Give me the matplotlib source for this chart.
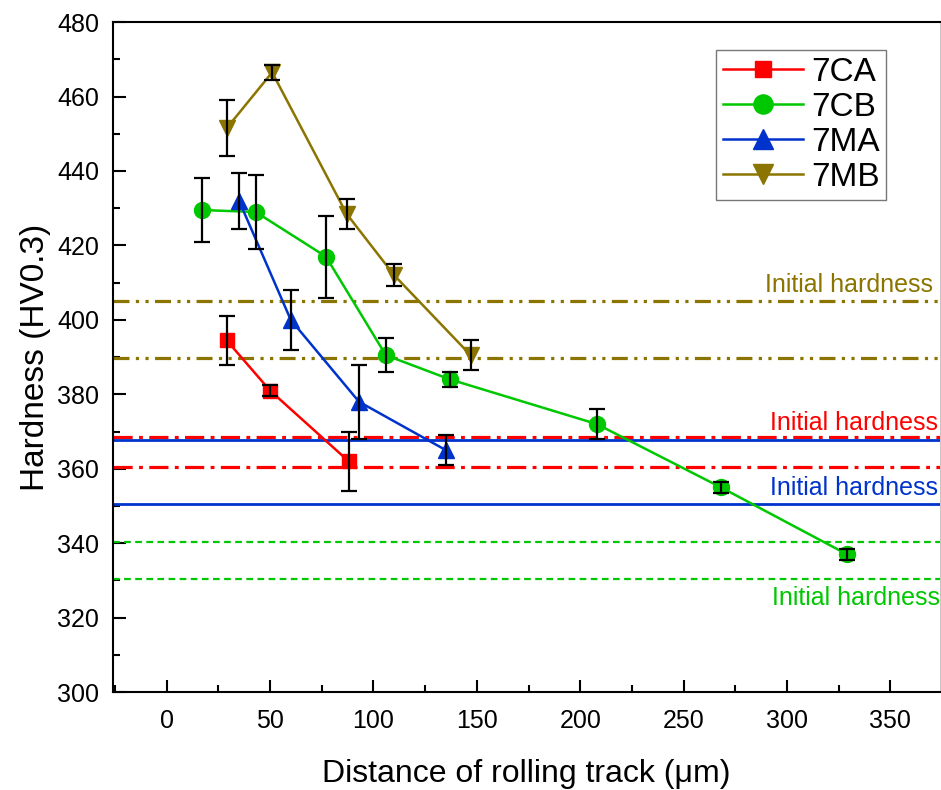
import matplotlib.pyplot as plt
from matplotlib.ticker import MultipleLocator

plt.rcParams['font.family'] = ['Liberation Sans', 'DejaVu Sans']

# 7CA
x_ca = [29, 50, 88]
y_ca = [394.5, 381, 362]
e_ca = [6.5, 1.5, 8]

# 7CB
x_cb = [17, 43, 77, 106, 137, 208, 268, 329]
y_cb = [429.5, 429, 417, 390.5, 384, 372, 355, 337]
e_cb = [8.5, 10, 11, 4.5, 2, 4, 1.5, 1.5]

# 7MA
x_ma = [35, 60, 93, 135]
y_ma = [432, 400, 378, 365]
e_ma = [7.5, 8, 10, 4]

# 7MB
x_mb = [29, 51, 87, 110, 147]
y_mb = [451.5, 466.5, 428.5, 412, 390.5]
e_mb = [7.5, 2, 4, 3, 4]

# initial hardness bands (upper, lower)
init_mb = [405.2, 389.8]
init_ca = [368.4, 360.6]
init_ma = [367.8, 350.6]
init_cb = [340.4, 330.4]

c_red = '#FF0000'
c_green = '#00C800'
c_blue = '#0033CC'
c_olive = '#8B7500'

fig = plt.figure(figsize=(9.41, 7.90), dpi=100)
ax = fig.add_axes([0.120, 0.124, 0.879, 0.848])

# reference lines
for v in init_mb:
    ax.axhline(v, color=c_olive, lw=2.3, dashes=(5, 2, 1, 2, 1, 2))
for v in init_ca:
    ax.axhline(v, color=c_red, lw=2.3, dashes=(6, 2, 1.2, 2))
for v in init_ma:
    ax.axhline(v, color=c_blue, lw=2.0)
for v in init_cb:
    ax.axhline(v, color=c_green, lw=1.6, dashes=(3, 2))

series = [
    (x_ca, y_ca, e_ca, c_red, 's', '7CA', 9.5),
    (x_cb, y_cb, e_cb, c_green, 'o', '7CB', 11.5),
    (x_ma, y_ma, e_ma, c_blue, '^', '7MA', 12),
    (x_mb, y_mb, e_mb, c_olive, 'v', '7MB', 12),
]
for xs, ys, es, c, m, lab, ms in series:
    ax.plot(xs, ys, color=c, marker=m, ms=ms, lw=1.8, label=lab, zorder=3)
    ax.errorbar(xs, ys, yerr=es, fmt='none', ecolor='black', elinewidth=1.6,
                capsize=6, capthick=1.6, zorder=4)

ytr = ax.get_yaxis_transform()
ax.text(0.991, 407.5, 'Initial hardness', color=c_olive, fontsize=18,
        ha='right', va='baseline', transform=ytr)
ax.text(0.997, 370.4, 'Initial hardness', color=c_red, fontsize=18,
        ha='right', va='baseline', transform=ytr)
ax.text(0.998, 352.9, 'Initial hardness', color=c_blue, fontsize=18,
        ha='right', va='baseline', transform=ytr)
ax.text(1.0, 323.4, 'Initial hardness', color=c_green, fontsize=18,
        ha='right', va='baseline', transform=ytr)

ax.set_xlim(-26, 374)
ax.set_ylim(300, 480)
ax.set_xticks([0, 50, 100, 150, 200, 250, 300, 350])
ax.set_yticks(range(300, 481, 20))
ax.xaxis.set_minor_locator(MultipleLocator(25))
ax.yaxis.set_minor_locator(MultipleLocator(10))
ax.tick_params(which='both', direction='in', top=False, right=False,
               labelsize=18, width=1.5)
ax.tick_params(axis='x', which='major', length=9, pad=12)
ax.tick_params(axis='y', which='major', length=9, pad=10)
ax.tick_params(which='minor', length=5)
for s in ax.spines.values():
    s.set_linewidth(1.5)
ax.spines['right'].set_linewidth(0.6)
ax.spines['right'].set_color('#bbbbbb')

ax.set_xlabel('Distance of rolling track (\u03bcm)', fontsize=23, labelpad=19)
ax.set_ylabel('Hardness (HV0.3)', fontsize=24, labelpad=4)

leg = ax.legend(loc='upper right', bbox_to_anchor=(0.935, 0.958), fontsize=24,
                fancybox=False, edgecolor='#555555', handlelength=2.4,
                handletextpad=0.25, borderpad=0.2, labelspacing=0.12,
                borderaxespad=0, markerscale=1.2)
leg.get_frame().set_linewidth(1.0)

fig.savefig('out.png', dpi=100)
